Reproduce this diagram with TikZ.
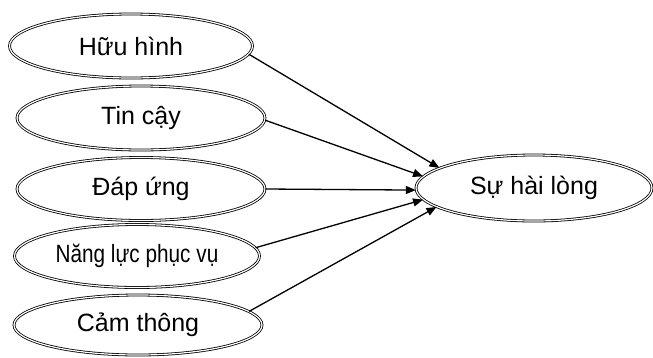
\documentclass[tikz,border=0pt]{standalone}
\usepackage{fontspec}
\setmainfont{Liberation Sans}
\usetikzlibrary{shapes.geometric,arrows.meta}
\begin{document}
\begin{tikzpicture}[x=1pt,y=-1pt,
  oval/.style={ellipse,draw,line width=0.8pt,double,double distance=1.2pt,inner sep=0pt,font=\fontsize{25}{28}\selectfont},
  link/.style={line width=1.3pt,-{Triangle[length=10pt,width=8pt]}}]
\useasboundingbox (0,0) rectangle (653,357);
\node[oval,minimum width=243,minimum height=64] (h) at (131,46) {Hữu hình};
\node[oval,minimum width=248,minimum height=64] (t) at (141,118) {Tin cậy};
\node[oval,minimum width=248,minimum height=63] (d) at (141,189) {Đáp ứng};
\node[oval,minimum width=245,minimum height=63] (n) at (137,256) {\scalebox{0.83}[1]{Năng lực phục vụ}};
\node[oval,minimum width=248,minimum height=60] (c) at (138,325) {Cảm thông};
\node[oval,minimum width=236,minimum height=66] (s) at (534,188) {Sự hài lòng};
\draw[link] (h.-4) -- (s.168.8);
\draw[link] (t.-1) -- (s.174.4);
\draw[link] (d.0) -- (s.181.5);
\draw[link] (n.4) -- (s.186);
\draw[link] (c.7) -- (s.191.6);
\end{tikzpicture}
\end{document}
